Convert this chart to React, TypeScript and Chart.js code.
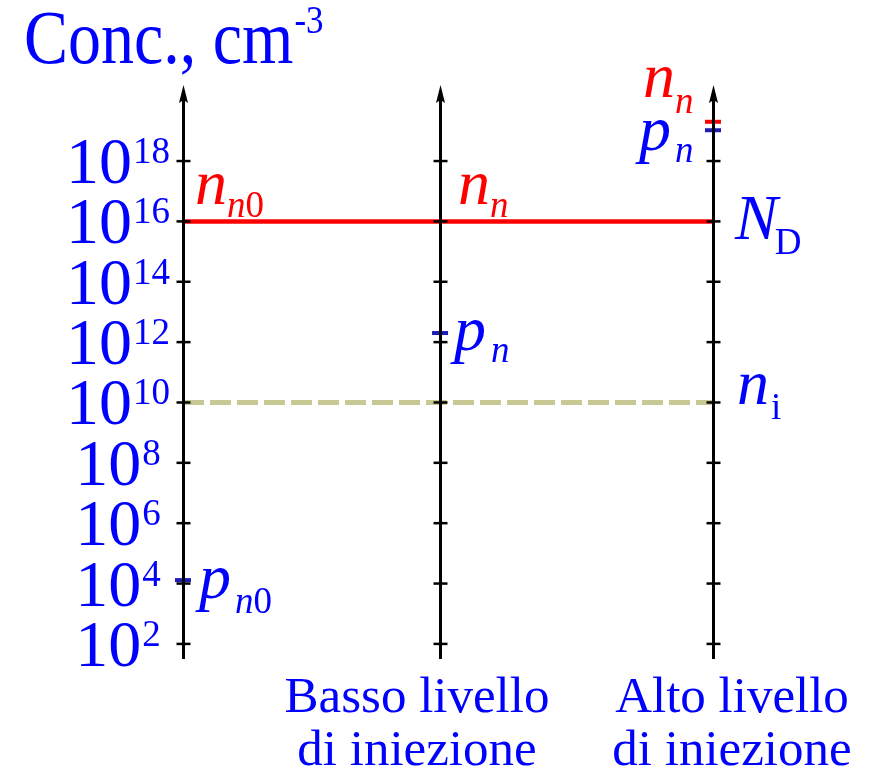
import React, { useEffect, useRef } from "react";
import { Chart, registerables } from "chart.js";

Chart.register(...registerables);

// ---- data ----
const axisPositions = [0, 0.97, 2]; // three vertical axes (x values)
const tickExponents = [2, 4, 6, 8, 10, 12, 14, 16, 18];
const yMinExp = 1.5;
const yMaxExp = 20.52;
const ND = 1e16; // donor concentration (n_n0)
const NI = 1e10; // intrinsic concentration
const pn0 = 1.3e4; // equilibrium holes
const pnLow = 2e12; // low injection holes
const nnHigh = 2e19; // high injection electrons
const pnHigh = 1.05e19; // high injection holes
const bottomLabels = [
  ["Basso livello", "di iniezione"],
  ["Alto livello", "di iniezione"],
];
const titleMain = "Conc., cm";
const titleSup = "-3";

const FONT = '"Liberation Serif", "Times New Roman", serif';
const BLUE = "#0000ff";
const RED = "#ff0000";
const MARK_BLUE = "#1c1cb4";
const TAN = "#c8c894";

type Seg = { t: string; size: number; italic?: boolean; color: string; dy?: number; gap?: number };

function drawRich(
  ctx: CanvasRenderingContext2D,
  x: number,
  y: number,
  segs: Seg[],
  align: "left" | "center" = "left",
  sy = 1
) {
  const widths = segs.map((s) => {
    ctx.font = `${s.italic ? "italic " : ""}${s.size}px ${FONT}`;
    return ctx.measureText(s.t).width + (s.gap || 0);
  });
  const total = widths.reduce((a, b) => a + b, 0);
  let cx = align === "center" ? x - total / 2 : x;
  ctx.save();
  ctx.translate(0, y);
  ctx.scale(1, sy);
  ctx.textBaseline = "alphabetic";
  ctx.textAlign = "left";
  segs.forEach((s, i) => {
    ctx.font = `${s.italic ? "italic " : ""}${s.size}px ${FONT}`;
    ctx.fillStyle = s.color;
    ctx.fillText(s.t, cx + (s.gap || 0), (s.dy || 0) / sy);
    cx += widths[i];
  });
  ctx.restore();
}

const overlayPlugin = {
  id: "overlay",
  afterDatasetsDraw(chart: any) {
    const ctx: CanvasRenderingContext2D = chart.ctx;
    const xs = chart.scales.x;
    const ys = chart.scales.y;
    const top = chart.chartArea.top;
    const bottom = chart.chartArea.bottom;
    ctx.save();
    // axes
    axisPositions.forEach((v) => {
      const px = Math.round(xs.getPixelForValue(v)) + 0.5;
      ctx.strokeStyle = "#000";
      ctx.lineWidth = 3;
      ctx.beginPath();
      ctx.moveTo(px, bottom);
      ctx.lineTo(px, top + 12);
      ctx.stroke();
      // arrow
      ctx.fillStyle = "#000";
      ctx.beginPath();
      ctx.moveTo(px, top);
      ctx.lineTo(px - 4.5, top + 18);
      ctx.lineTo(px, top + 15);
      ctx.lineTo(px + 4.5, top + 18);
      ctx.closePath();
      ctx.fill();
      // ticks
      ctx.lineWidth = 2.5;
      tickExponents.forEach((e) => {
        const py = ys.getPixelForValue(Math.pow(10, e));
        ctx.beginPath();
        ctx.moveTo(px - 7, py);
        ctx.lineTo(px + 7, py);
        ctx.stroke();
      });
    });
    // tick labels
    tickExponents.forEach((e) => {
      const py = ys.getPixelForValue(Math.pow(10, e));
      drawRich(
        ctx,
        118,
        py + 22,
        [
          { t: "10", size: 66, color: BLUE },
          { t: String(e), size: 37, color: BLUE, dy: -20, gap: 1 },
        ],
        "center"
      );
    });
    const a0 = xs.getPixelForValue(axisPositions[0]);
    const a1 = xs.getPixelForValue(axisPositions[1]);
    const a2 = xs.getPixelForValue(axisPositions[2]);
    const yND = ys.getPixelForValue(ND);
    const yNI = ys.getPixelForValue(NI);
    const big = 64;
    const sub = 37;
    // n_n0
    drawRich(ctx, a0 + 12, yND - 17, [
      { t: "n", size: big, italic: true, color: RED },
      { t: "n", size: sub, italic: true, color: RED, dy: 13 },
      { t: "0", size: sub, color: RED, dy: 13 },
    ]);
    // n_n middle
    drawRich(ctx, a1 + 18, yND - 17, [
      { t: "n", size: big, italic: true, color: RED },
      { t: "n", size: sub, italic: true, color: RED, dy: 13 },
    ]);
    // p_n middle
    const yPnLow = ys.getPixelForValue(pnLow);
    drawRich(ctx, a1 + 14, yPnLow + 17, [
      { t: "p", size: big, italic: true, color: BLUE },
      { t: "n", size: sub, italic: true, color: BLUE, dy: 12, gap: 5 },
    ]);
    // p_n0
    const yPn0 = ys.getPixelForValue(pn0);
    drawRich(ctx, a0 + 16, yPn0 + 18, [
      { t: "p", size: big, italic: true, color: BLUE },
      { t: "n", size: sub, italic: true, color: BLUE, dy: 15, gap: 4 },
      { t: "0", size: sub, color: BLUE, dy: 15 },
    ]);
    // N_D
    drawRich(ctx, a2 + 22, yND + 18, [
      { t: "N", size: big, italic: true, color: BLUE },
      { t: "D", size: sub, color: BLUE, dy: 15, gap: -3 },
    ]);
    // n_i
    drawRich(ctx, a2 + 24, yNI + 2, [
      { t: "n", size: big, italic: true, color: BLUE },
      { t: "i", size: sub, color: BLUE, dy: 15, gap: 2 },
    ]);
    // top right n_n and p_n
    const yNnH = ys.getPixelForValue(nnHigh);
    drawRich(ctx, a2 - 70, yNnH - 25, [
      { t: "n", size: big, italic: true, color: RED },
      { t: "n", size: sub, italic: true, color: RED, dy: 16 },
    ]);
    const yPnH = ys.getPixelForValue(pnHigh);
    drawRich(ctx, a2 - 74, yPnH + 20, [
      { t: "p", size: big, italic: true, color: BLUE },
      { t: "n", size: sub, italic: true, color: BLUE, dy: 12, gap: 4 },
    ]);
    // title
    drawRich(
      ctx,
      24,
      63,
      [
        { t: titleMain, size: 66, color: BLUE },
        { t: titleSup, size: 35, color: BLUE, dy: -30, gap: 1 },
      ],
      "left",
      1.15
    );
    // bottom labels
    const centers = [417, 732];
    bottomLabels.forEach((lines, i) => {
      lines.forEach((ln, j) => {
        drawRich(ctx, centers[i], 712 + j * 53, [{ t: ln, size: 51, color: BLUE }], "center");
      });
    });
    ctx.restore();
  },
};

export default function App() {
  const ref = useRef<HTMLCanvasElement | null>(null);
  useEffect(() => {
    if (!ref.current) return;
    const chart = new Chart(ref.current, {
      type: "scatter",
      data: {
        datasets: [
          {
            label: "N_D",
            data: [
              { x: axisPositions[0], y: ND },
              { x: axisPositions[2], y: ND },
            ],
            showLine: true,
            borderColor: RED,
            borderWidth: 4.5,
            pointRadius: 0,
            clip: false,
          } as any,
          {
            label: "n_i",
            data: [
              { x: axisPositions[0], y: NI },
              { x: axisPositions[2], y: NI },
            ],
            showLine: true,
            borderColor: TAN,
            borderWidth: 5,
            borderDash: [21, 6],
            pointRadius: 0,
            clip: false,
          } as any,
          {
            label: "n_n high",
            data: [{ x: axisPositions[2], y: nnHigh }],
            showLine: false,
            pointStyle: "line",
            pointRadius: 8,
            pointBorderWidth: 4,
            pointBorderColor: RED,
            borderColor: RED,
            clip: false,
          } as any,
          {
            label: "p_n",
            data: [
              { x: axisPositions[0], y: pn0 },
              { x: axisPositions[1], y: pnLow },
              { x: axisPositions[2], y: pnHigh },
            ],
            showLine: false,
            pointStyle: "line",
            pointRadius: 8,
            pointBorderWidth: 4,
            pointBorderColor: MARK_BLUE,
            borderColor: MARK_BLUE,
            clip: false,
          } as any,
        ],
      },
      options: {
        animation: false,
        responsive: false,
        maintainAspectRatio: false,
        layout: { padding: { left: 183, right: 160, top: 85, bottom: 120 } },
        scales: {
          x: { type: "linear", min: 0, max: 2, display: false },
          y: { type: "logarithmic", min: Math.pow(10, yMinExp), max: Math.pow(10, yMaxExp), display: false },
        },
        plugins: { legend: { display: false }, tooltip: { enabled: false } },
      },
      plugins: [overlayPlugin],
    });
    return () => chart.destroy();
  }, []);
  return (
    <div style={{ position: "absolute", left: 0, top: 0, width: 873, height: 779, background: "#fff" }}>
      <canvas ref={ref} width={873} height={779} style={{ display: "block" }} />
    </div>
  );
}
